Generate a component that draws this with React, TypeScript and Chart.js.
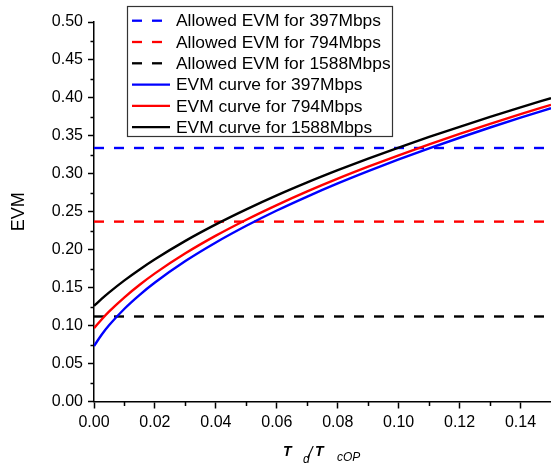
import React, { useEffect, useRef } from 'react';
import { Chart, registerables } from 'chart.js';

Chart.register(...registerables);

// ---- data ----
const tValues = [0, 0.0025, 0.005, 0.01, 0.015, 0.02, 0.03, 0.04, 0.05, 0.06, 0.07, 0.08, 0.09, 0.1, 0.11, 0.12, 0.13, 0.14, 0.15];
const evm397 = [0.073, 0.0879, 0.1007, 0.1222, 0.1405, 0.1567, 0.1850, 0.2095, 0.2315, 0.2516, 0.2700, 0.2873, 0.3035, 0.3189, 0.3335, 0.3475, 0.3610, 0.3739, 0.3865];
const evm794 = [0.0964, 0.1081, 0.1187, 0.1373, 0.1538, 0.1688, 0.1952, 0.2185, 0.2395, 0.2588, 0.2768, 0.2936, 0.3094, 0.3244, 0.3388, 0.3525, 0.3657, 0.3785, 0.3909];
const evm1588 = [0.126, 0.1352, 0.1438, 0.1596, 0.1740, 0.1874, 0.2116, 0.2333, 0.2531, 0.2715, 0.2886, 0.3047, 0.3200, 0.3345, 0.3485, 0.3619, 0.3749, 0.3875, 0.3997];
const allowedEvm = [0.334, 0.237, 0.112];
const xRange = [0, 0.15];
const legendLabels = [
  'Allowed EVM for 397Mbps',
  'Allowed EVM for 794Mbps',
  'Allowed EVM for 1588Mbps',
  'EVM curve for 397Mbps',
  'EVM curve for 794Mbps',
  'EVM curve for 1588Mbps',
];
const seriesColors = ['#0000ff', '#ff0000', '#000000'];
const minorXTicks = [0.01, 0.03, 0.05, 0.07, 0.09, 0.11, 0.13];
const minorYTicks = [0.025, 0.075, 0.125, 0.175, 0.225, 0.275, 0.325, 0.375, 0.425, 0.475];

const FONT = '"Liberation Sans", Arial, Helvetica, sans-serif';
const DASH = [10, 10];

const curve = (ys: number[]) => tValues.map((t, i) => ({ x: t, y: ys[i] }));
const flat = (v: number) => xRange.map((x) => ({ x, y: v }));

const minorTicksPlugin = {
  id: 'minorTicks',
  afterDraw(chart: any) {
    const { ctx, chartArea, scales } = chart;
    const x = scales.x;
    const y = scales.y;
    ctx.save();
    ctx.strokeStyle = '#000';
    ctx.lineWidth = 1.5;
    ctx.beginPath();
    minorXTicks.forEach((v) => {
      const px = Math.round(x.getPixelForValue(v)) + 0.5;
      ctx.moveTo(px, chartArea.bottom);
      ctx.lineTo(px, chartArea.bottom + 4.5);
    });
    minorYTicks.forEach((v) => {
      const py = Math.round(y.getPixelForValue(v)) + 0.5;
      ctx.moveTo(chartArea.left - 3.5, py);
      ctx.lineTo(chartArea.left, py);
    });
    ctx.stroke();
    ctx.restore();
  },
};

const legendBoxPlugin = {
  id: 'legendBox',
  afterDraw(chart: any) {
    const { ctx } = chart;
    const left = 127.5;
    const top = 6.5;
    const w = 265;
    const h = 130;
    ctx.save();
    ctx.fillStyle = '#fff';
    ctx.fillRect(left, top, w, h);
    ctx.strokeStyle = '#333';
    ctx.lineWidth = 1.2;
    ctx.strokeRect(left, top, w, h);
    ctx.font = `17.4px ${FONT}`;
    ctx.textBaseline = 'middle';
    ctx.textAlign = 'left';
    chart.data.datasets.forEach((ds: any, i: number) => {
      const cy = 20.7 + i * 21.3;
      ctx.beginPath();
      ctx.strokeStyle = ds.borderColor;
      ctx.lineWidth = 2.3;
      ctx.setLineDash(ds.borderDash || []);
      ctx.moveTo(132, cy);
      ctx.lineTo(170, cy);
      ctx.stroke();
      ctx.setLineDash([]);
      ctx.fillStyle = '#000';
      ctx.fillText(ds.label, 176, cy + 1);
    });
    ctx.restore();
  },
};

const xTitlePlugin = {
  id: 'xTitle',
  afterDraw(chart: any) {
    const { ctx } = chart;
    ctx.save();
    ctx.fillStyle = '#000';
    ctx.textBaseline = 'alphabetic';
    ctx.textAlign = 'left';
    ctx.font = `italic bold 14px ${FONT}`;
    ctx.fillText('T', 283, 455.5);
    ctx.font = `italic 12px ${FONT}`;
    ctx.fillText('d', 303, 463);
    ctx.font = `italic 16px ${FONT}`;
    ctx.fillText('/', 308, 458);
    ctx.font = `italic bold 14px ${FONT}`;
    ctx.fillText('T', 315, 455.5);
    ctx.font = `italic 12px ${FONT}`;
    ctx.fillText('cOP', 337, 461);
    ctx.restore();
  },
};

export default function App() {
  const canvasRef = useRef<HTMLCanvasElement | null>(null);

  useEffect(() => {
    if (!canvasRef.current) return;
    const chart = new Chart(canvasRef.current, {
      type: 'line',
      data: {
        datasets: [
          { label: legendLabels[0], data: flat(allowedEvm[0]), borderColor: seriesColors[0], borderDash: DASH, order: 1 },
          { label: legendLabels[1], data: flat(allowedEvm[1]), borderColor: seriesColors[1], borderDash: DASH, order: 1 },
          { label: legendLabels[2], data: flat(allowedEvm[2]), borderColor: seriesColors[2], borderDash: DASH, order: 1 },
          { label: legendLabels[3], data: curve(evm397), borderColor: seriesColors[0], cubicInterpolationMode: 'monotone', order: 0 },
          { label: legendLabels[4], data: curve(evm794), borderColor: seriesColors[1], cubicInterpolationMode: 'monotone', order: 0 },
          { label: legendLabels[5], data: curve(evm1588), borderColor: seriesColors[2], cubicInterpolationMode: 'monotone', order: 0 },
        ] as any,
      },
      options: {
        animation: false,
        responsive: false,
        layout: { padding: { left: 0, right: 0, top: 22, bottom: 0 } },
        elements: { point: { radius: 0 }, line: { borderWidth: 2.4, fill: false } },
        plugins: { legend: { display: false }, tooltip: { enabled: false } },
        scales: {
          x: {
            type: 'linear',
            min: 0,
            max: 0.15,
            grid: { drawOnChartArea: false, drawTicks: true, tickLength: 7, tickColor: '#000', tickWidth: 1.5 },
            border: { display: true, color: '#000', width: 1.5 },
            ticks: {
              stepSize: 0.02,
              includeBounds: false,
              autoSkip: false,
              maxRotation: 0,
              color: '#000',
              padding: 4,
              font: { family: FONT, size: 16 },
              callback: (v: any) => Number(v).toFixed(2),
            },
            afterFit: (s: any) => { s.height = 62.5; },
          },
          y: {
            type: 'linear',
            min: 0,
            max: 0.5,
            grid: { drawOnChartArea: false, drawTicks: true, tickLength: 6, tickColor: '#000', tickWidth: 1.5 },
            border: { display: true, color: '#000', width: 1.5 },
            ticks: {
              stepSize: 0.05,
              autoSkip: false,
              color: '#000',
              padding: 5,
              font: { family: FONT, size: 16 },
              callback: (v: any) => Number(v).toFixed(2),
            },
            title: { display: true, text: 'EVM', color: '#000', font: { family: FONT, size: 18 }, padding: { top: 8, bottom: 0 } },
            afterFit: (s: any) => { s.width = 94; },
          },
        },
      } as any,
      plugins: [minorTicksPlugin, legendBoxPlugin, xTitlePlugin],
    });
    return () => chart.destroy();
  }, []);

  return (
    <div style={{ position: 'fixed', left: 0, top: 0, width: 551, height: 464, background: '#fff' }}>
      <canvas ref={canvasRef} width={551} height={464} style={{ display: 'block' }} />
    </div>
  );
}
